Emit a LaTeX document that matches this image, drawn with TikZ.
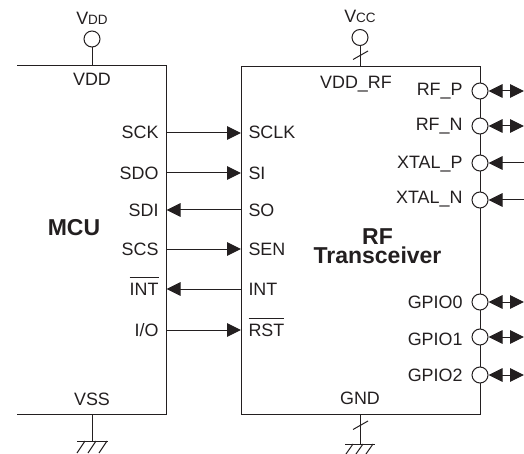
\documentclass[tikz,border=0pt]{standalone}
\usepackage{fontspec}
\setmainfont{Liberation Sans}
\usetikzlibrary{arrows.meta}
\definecolor{ink}{HTML}{231F20}
\newcommand\ovl[1]{\setbox0\hbox{#1}\rlap{\rule[17.5pt]{\wd0}{0.9pt}}\box0}
\newcommand\subsz[1]{{\fontsize{13.5}{14}\selectfont #1}}
\tikzset{
  every node/.style={text=ink,font=\fontsize{17.9}{18}\selectfont,inner sep=0pt},
  lbl/.style={},
  pinl/.style={lbl,anchor=base east},
  pinr/.style={lbl,anchor=base west},
  ctr/.style={lbl,anchor=base},
  title/.style={lbl,font=\fontsize{23}{19.5}\selectfont\bfseries,align=center},
  term/.style={circle,draw=ink,fill=white,minimum size=16pt,inner sep=0pt},
  sig/.style={-{Triangle[length=14pt,width=13.5pt]}},
  both/.style={{Triangle[length=14pt,width=13.5pt]}-{Triangle[length=14pt,width=13.5pt]}},
  sigin/.style={{Triangle[length=14pt,width=13.5pt]}-},
}
\begin{document}
\begin{tikzpicture}[x=1pt,y=-1pt,line width=1pt,color=ink]
\useasboundingbox (0,0) rectangle (524,454);
% MCU outline
\coordinate (mtl) at (17,66);
\coordinate (mtr) at (166.5,66);
\coordinate (mbr) at (166.5,414);
\coordinate (mbl) at (17,414);
\draw (mtl) -- (mtr) -- (mbr) -- (mbl);
% RF outline
\node[draw=ink,rectangle,minimum width=239pt,minimum height=348pt,anchor=north west] (rf) at (241,66) {};
% MCU/RF pins
\foreach \n/\y in {sck/133,sdo/173,sdi/210,scs/249,int/289,io/330}{
  \coordinate (m\n) at (166.5,\y);
  \coordinate (r\n) at (241,\y);
}
\draw[sig] (msck) -- (rsck);
\draw[sig] (msdo) -- (rsdo);
\draw[sig] (rsdi) -- (msdi);
\draw[sig] (mscs) -- (rscs);
\draw[sig] (rint) -- (mint);
\draw[sig] (mio) -- (rio);
\node[pinl] (tsck) at (159,139) {SCK};
\node[pinl] (tsdo) at (159,180) {SDO};
\node[pinl] (tsdi) at (159,217) {SDI};
\node[pinl] (tscs) at (159,255) {SCS};
\node[pinl] (tint) at (159,295) {\ovl{INT}};
\node[pinl] (tio) at (159,336) {I/O};
\node[pinr] (usck) at (248,139) {SCLK};
\node[pinr] (usi) at (248,180) {SI};
\node[pinr] (uso) at (248,217) {SO};
\node[pinr] (usen) at (248,255) {SEN};
\node[pinr] (uint) at (248,295) {INT};
\node[pinr] (urst) at (248,336) {\ovl{RST}};
\node[ctr] (tvdd) at (92,86) {VDD};
\node[ctr] (tvss) at (92,405) {VSS};
\node[ctr] (tvddrf) at (356,89) {VDD\_RF};
\node[ctr] (tgnd) at (360,404) {GND};
\node[title,anchor=base] (tmcu) at (74,235) {MCU};
\node[title,anchor=base] (trf) at (377.5,263.5) {RF\\Transceiver};
% Supplies
\coordinate (vddpin) at (92,66);
\coordinate (vccpin) at (360,66);
\node[term] (cvdd) at (92,39) {};
\node[term] (cvcc) at (360,37.5) {};
\draw (cvdd) -- (vddpin);
\draw (cvcc) -- (vccpin);
\coordinate (s1a) at (353,59.5);
\coordinate (s1b) at (368,51);
\draw (s1a) -- (s1b);
\node[ctr] (lvdd) at (92,25) {V\subsz{DD}};
\node[ctr] (lvcc) at (360,23) {V\subsz{CC}};
% Grounds
\coordinate (vsspin) at (92,414);
\coordinate (gndpin) at (360,414);
\coordinate (g1) at (92,441);
\coordinate (g2) at (360,444);
\draw (vsspin) -- (g1);
\draw (gndpin) -- (g2);
\draw (77,441) -- (108,441);
\draw (345,444) -- (375,444);
\foreach \a in {85,96,107}{ \draw (\a,441) -- (\a-8,453); }
\foreach \a in {353,363,373}{ \draw (\a,444) -- (\a-7,454); }
\draw (353,429.5) -- (368,421);
% RF right side
\foreach \n/\y/\t/\b in {rfp/91/RF\_P/96,rfn/126/RF\_N/131,xtp/163/XTAL\_P/169,xtn/200/XTAL\_N/204,gp0/302/GPIO0/308,gp1/337/GPIO1/345,gp2/375/GPIO2/381}{
  \node[term] (c\n) at (480,\y) {};
  \coordinate (e\n) at (524,\y);
  \node[pinl] (t\n) at (463,\b) {\t};
}
\draw[both] (crfp.east) -- (erfp);
\draw[both] (crfn.east) -- (erfn);
\draw[sigin] (cxtp.east) -- (extp);
\draw[sigin] (cxtn.east) -- (extn);
\draw[both] (cgp0.east) -- (egp0);
\draw[both] (cgp1.east) -- (egp1);
\draw[both] (cgp2.east) -- (egp2);
\end{tikzpicture}
\end{document}
